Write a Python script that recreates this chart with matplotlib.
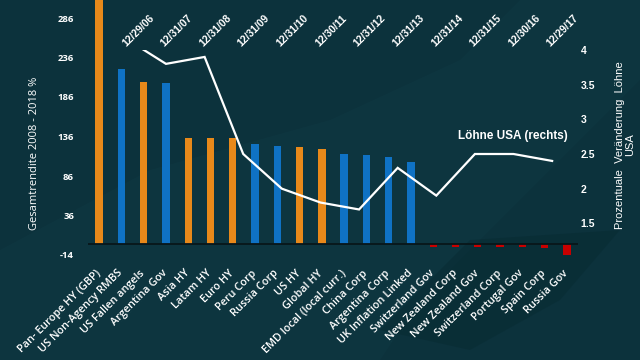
import matplotlib
matplotlib.use("Agg")
import matplotlib.pyplot as plt
import numpy as np

# ---- data ----
categories = ["Pan- Europe HY (GBP)", "US Non-Agency RMBS", "US Fallen angels", "Argentina Gov",
              "Asia HY", "Latam HY", "Euro HY", "Peru Corp", "Russia Corp", "US HY", "Global HY",
              "EMD local (local curr.)", "China Corp", "Argentina Corp", "UK Inflation Linked",
              "Switzerland Gov", "New Zealand Corp", "New Zealand Gov", "Switzerland Corp",
              "Portugal Gov", "Spain Corp", "Russia Gov"]
returns = [330, 222, 205, 204, 134, 134, 134, 127, 124, 123, 120,
           114, 113, 110, 104, -3.3, -3.5, -3.5, -3.5, -3.5, -4.6, -13.5]
bar_group = ["o", "b", "o", "b", "o", "o", "o", "b", "b", "o", "o",
             "b", "b", "b", "b", "r", "r", "r", "r", "r", "r", "r"]
dates = ["12/29/06", "12/31/07", "12/31/08", "12/31/09", "12/31/10", "12/30/11",
         "12/31/12", "12/31/13", "12/31/14", "12/31/15", "12/30/16", "12/29/17"]
wages = [4.15, 3.8, 3.9, 2.5, 2.0, 1.8, 1.7, 2.3, 1.9, 2.5, 2.5, 2.4]
left_ticks = [-14, 36, 86, 136, 186, 236, 286]
right_ticks = [1.5, 2, 2.5, 3, 3.5, 4]

BG = "#0c323c"
colors = {"o": "#e8891a", "b": "#0f72c4", "r": "#c80000"}
W, H = 640, 360

fig = plt.figure(figsize=(6.4, 3.6), dpi=100, facecolor=BG)

# subtle background decoration
deco = fig.add_axes([0, 0, 1, 1], zorder=-5)
deco.set_xlim(0, W); deco.set_ylim(H, 0); deco.axis("off")
deco.add_patch(plt.Polygon([(0, 360), (0, 250), (150, 170), (330, 120), (460, 60), (520, 0),
                            (640, 0), (640, 80), (520, 200), (420, 300), (380, 360)],
                           closed=True, color="#103a45", alpha=0.4, lw=0))
deco.add_patch(plt.Polygon([(380, 330), (470, 240), (620, 230), (560, 300), (470, 350)],
                           closed=True, color="#06282f", alpha=0.4, lw=0))

# ---- primary axes: bars ----
ax1 = fig.add_axes([88 / W, 1 - 255 / H, 490 / W, 255 / H])
ax1.set_facecolor("none")
x = np.arange(len(categories))
ax1.bar(x, returns, width=0.33, color=[colors[g] for g in bar_group], zorder=2)
ax1.axhline(0, color="#08161a", lw=1.3, zorder=3)
ax1.set_xlim(-0.5, len(categories) - 0.5)
ax1.set_ylim(-14, -14 + 255 / 0.79)
ax1.set_yticks(left_ticks)
ax1.set_yticklabels([str(t) for t in left_ticks], color="white", fontsize=6.8,
                    fontweight="bold", family="Open Sans")
ax1.set_xticks(x)
ax1.set_xticklabels(categories, rotation=45, ha="right", va="center",
                    rotation_mode="anchor", color="white", fontsize=7.8,
                    fontweight="semibold", family="Open Sans")
ax1.tick_params(axis="both", length=0)
ax1.tick_params(axis="y", pad=10)
ax1.tick_params(axis="x", pad=12)
for s in ax1.spines.values():
    s.set_visible(False)

# ---- secondary axes: wage line ----
ax2 = fig.add_axes([88 / W, 1 - 258 / H, 490 / W, 208 / H])
ax2.set_facecolor("none")
xd = np.arange(len(dates))
ax2.plot(xd, wages, color="white", lw=1.6, zorder=4, solid_joinstyle="miter")
ax2.set_xlim(-1.02, 11.67)
ax2.set_ylim(1.0, 4.0)
ax2.xaxis.tick_top()
ax2.set_xticks(xd)
ax2.set_xticklabels(dates, rotation=45, ha="left", va="bottom", rotation_mode="anchor",
                    color="white", fontsize=7.5, fontweight="bold", family="Liberation Sans")
ax2.yaxis.tick_right()
ax2.set_yticks(right_ticks)
ax2.set_yticklabels([f"{t:g}" for t in right_ticks], color="white", fontsize=7.5,
                    fontweight="bold", family="Liberation Sans")
ax2.tick_params(axis="both", length=0)
ax2.tick_params(axis="x", pad=1)
ax2.tick_params(axis="y", pad=2)
for s in ax2.spines.values():
    s.set_visible(False)

# ---- texts ----
fig.text(35 / W, 1 - 153 / H, "Gesamtrendite 2008 - 2018 %", rotation=90, ha="center",
         va="center", color="white", fontsize=8, family="Open Sans")
fig.text(625 / W, 1 - 145 / H, "Prozentuale  Veränderung  Löhne\nUSA", rotation=90,
         ha="center", va="center", multialignment="center", color="white", fontsize=8,
         family="Liberation Sans", linespacing=1.0)
fig.text(513 / W, 1 - 136 / H, "Löhne USA (rechts)", ha="center", va="center",
         color="white", fontsize=8.5, fontweight="bold", family="Liberation Sans")

fig.savefig("out.png", dpi=100, facecolor=BG)
